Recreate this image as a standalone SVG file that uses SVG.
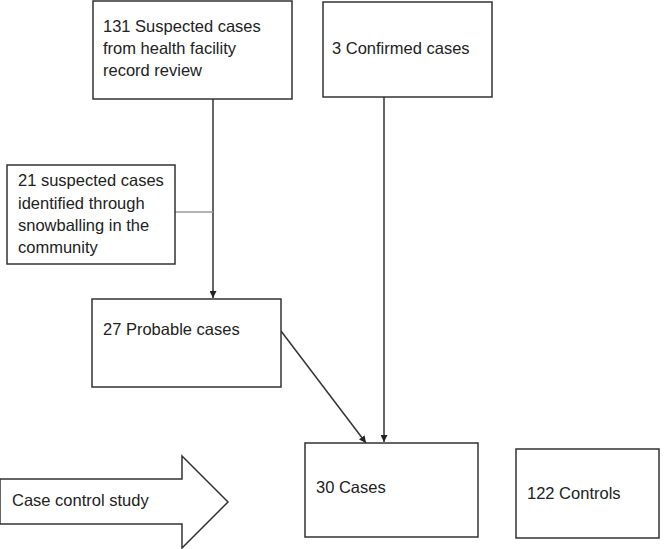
<svg xmlns="http://www.w3.org/2000/svg" width="666" height="549" viewBox="0 0 666 549">
<style>
.box{fill:#fff;stroke:#333;stroke-width:1.5}
.t{font-family:"Liberation Sans",Arial,sans-serif;font-size:16.5px;fill:#222}
.ln{stroke:#333;stroke-width:1.5;fill:none}
</style>
<defs>
<marker id="ah" viewBox="0 0 10 10" refX="10" refY="5" markerWidth="7" markerHeight="7" markerUnits="userSpaceOnUse" orient="auto">
<path d="M0,0 L10,5 L0,10 z" fill="#222"/>
</marker>
</defs>
<rect width="666" height="549" fill="#fff"/>
<g id="connectors">
<line class="ln" x1="213" y1="99" x2="213" y2="298" marker-end="url(#ah)" style="marker-end:url(#ah)"/>
<line x1="175" y1="212" x2="213" y2="212" stroke="#999" stroke-width="1.3"/>
<line class="ln" x1="384" y1="97" x2="384" y2="442" marker-end="url(#ah)"/>
<line class="ln" x1="281" y1="331" x2="366" y2="443" marker-end="url(#ah)"/>
</g>
<g id="n131">
<rect class="box" x="93" y="1" width="199" height="98"/>
<text class="t" x="103" y="32">131 Suspected cases</text>
<text class="t" x="103" y="54">from health facility</text>
<text class="t" x="103" y="76">record review</text>
</g>
<g id="n3">
<rect class="box" x="323" y="2" width="169" height="95"/>
<text class="t" x="332" y="54">3 Confirmed cases</text>
</g>
<g id="n21">
<rect class="box" x="7" y="165" width="168" height="99"/>
<text class="t" x="18" y="186">21 suspected cases</text>
<text class="t" x="18" y="209">identified through</text>
<text class="t" x="18" y="231">snowballing in the</text>
<text class="t" x="18" y="253">community</text>
</g>
<g id="n27">
<rect class="box" x="92" y="299" width="189" height="88"/>
<text class="t" x="103" y="335">27 Probable cases</text>
</g>
<g id="n30">
<rect class="box" x="305" y="443" width="173" height="94"/>
<text class="t" x="316" y="493">30 Cases</text>
</g>
<g id="n122">
<rect class="box" x="516" y="449" width="143" height="89"/>
<text class="t" x="527" y="499">122 Controls</text>
</g>
<g id="study">
<path class="box" d="M0,479 L182,479 L182,456 L228,502 L182,548 L182,524 L0,524 z"/>
<text class="t" x="12" y="506">Case control study</text>
</g>
</svg>
